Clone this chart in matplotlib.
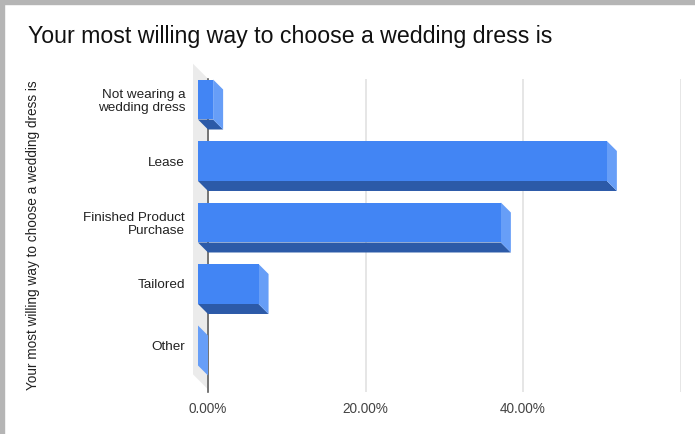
import numpy as np
import matplotlib
matplotlib.use("Agg")
import matplotlib.pyplot as plt
from matplotlib.patches import Polygon, Rectangle

plt.rcParams['font.family'] = ['Liberation Sans', 'DejaVu Sans']

categories = ["Not wearing a\nwedding dress", "Lease", "Finished Product\nPurchase", "Tailored", "Other"]
shares = [1.92, 51.92, 38.46, 7.69, 0.0]   # percent of answers
tick_vals = [0, 20, 40, 60]
tick_labels = ["0.00%", "20.00%", "40.00%", ""]
title = "Your most willing way to choose a wedding dress is"

W, H = 695, 434
fig = plt.figure(figsize=(W / 100, H / 100), dpi=100)

# grey frame on top and left
fig.patches.append(Rectangle((0, 1 - 4 / H), 1, 4 / H, transform=fig.transFigure,
                             color="#b5b5b5", zorder=0))
fig.patches.append(Rectangle((0, 0), 4 / W, 1, transform=fig.transFigure,
                             color="#b5b5b5", zorder=0))

ax = fig.add_axes([208 / W, (H - 392.4) / H, 472.5 / W, 313.65 / H])
ax.set_xlim(0, 60)
ax.set_ylim(4.6, -0.5)
for s in ax.spines.values():
    s.set_visible(False)

# pixel depth of the fake 3d extrusion, converted to data units
px_x = ax.bbox.width / 60
px_y = ax.bbox.height / 5.1
bar_d = 10
wall_d = 15
dx, dy = bar_d / px_x, bar_d / px_y
wx, wy = wall_d / px_x, wall_d / px_y

# left wall
y0, y1 = -0.5, 4.55
ax.add_patch(Polygon([(0, y0), (0, y1), (-wx, y1 - wy), (-wx, y0 - wy)],
                     closed=True, facecolor="#ebebeb", edgecolor="none",
                     clip_on=False, zorder=1))
ax.plot([0, 0], [y0, 4.6], color="#5f5f5f", lw=1.2, zorder=2, clip_on=False)

ax.set_xticks(tick_vals, tick_labels)
ax.xaxis.grid(True, color="#e4e4e4", lw=1.3, zorder=0)
ax.set_axisbelow(True)
ax.tick_params(axis="x", length=0, pad=7, labelsize=9.8, labelcolor="#444444")

h = 0.65
front, side, under = "#4285f4", "#679ef7", "#2c5aa8"
for i, v in enumerate(shares):
    top, bot = i - h / 2, i + h / 2
    # underside
    ax.add_patch(Polygon([(-dx, bot - dy), (v - dx, bot - dy), (v, bot), (0, bot)],
                         closed=True, facecolor=under, edgecolor="none",
                         clip_on=False, zorder=3))
    # right end
    ax.add_patch(Polygon([(v - dx, top - dy), (v, top), (v, bot), (v - dx, bot - dy)],
                         closed=True, facecolor=side, edgecolor="none",
                         clip_on=False, zorder=3))
    # front face
    ax.add_patch(Rectangle((-dx, top - dy), v, h, facecolor=front, edgecolor="none",
                           clip_on=False, zorder=4))

ax.set_yticks(np.arange(len(categories)) - dy, categories)
ax.tick_params(axis="y", length=0, pad=16.5, labelsize=9.7, labelcolor="#222222")
for lab in ax.get_yticklabels():
    lab.set_linespacing(1.1)

fig.text(28 / W, (H - 37) / H, title, fontsize=16.7, color="#111111",
         ha="left", va="center")
fig.text(33 / W, (H - 235) / H, title, fontsize=9.8, color="#222222",
         rotation=90, ha="center", va="center")

fig.savefig("out.png", dpi=100)
